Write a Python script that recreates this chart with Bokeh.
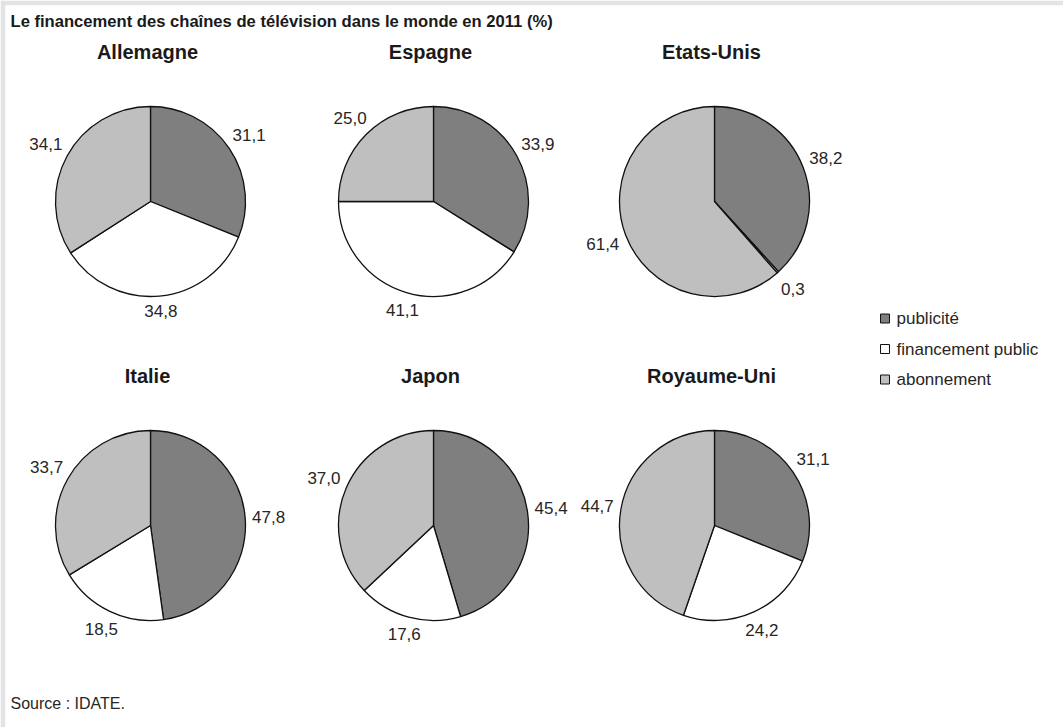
import math
from bokeh.plotting import figure
from bokeh.models import Range1d, ColumnDataSource
from bokeh.embed import file_html
from bokeh.resources import INLINE
from bokeh.core.properties import value

# ---------------- data ----------------
chart_title = "Le financement des chaînes de télévision dans le monde en 2011 (%)"
countries = ["Allemagne", "Espagne", "Etats-Unis", "Italie", "Japon", "Royaume-Uni"]
series = ["publicité", "financement public", "abonnement"]
publicite = [31.1, 33.9, 38.2, 47.8, 45.4, 31.1]
financement_public = [34.8, 41.1, 0.3, 18.5, 17.6, 24.2]
abonnement = [34.1, 25.0, 61.4, 33.7, 37.0, 44.7]
source_note = "Source : IDATE."

# ---------------- style / layout ----------------
colors = ["#7f7f7f", "#ffffff", "#bfbfbf"]
FONT = value("Liberation Sans")
W, H = 1063, 727
STRIP = 5              # grey strip on top / left


def px(x):
    return x


def py(y):
    return H - y


col_x = [150, 433, 714]
row_y = [201, 525]
R = 95

p = figure(width=W, height=H, x_range=Range1d(STRIP, W), y_range=Range1d(0, H - STRIP),
           x_axis_type=None, y_axis_type=None, toolbar_location=None,
           output_backend="svg", min_border=0, min_border_left=STRIP,
           min_border_top=STRIP)
p.outline_line_color = None
p.background_fill_color = "#ffffff"
p.border_fill_color = "#e3e3e3"
p.xgrid.grid_line_color = None
p.ygrid.grid_line_color = None

wx, wy, ws, we, wc = [], [], [], [], []
lx, ly, lt = [], [], []
tx, ty, tt = [], [], []

for i, name in enumerate(countries):
    cx = px(col_x[i % 3])
    cy = py(row_y[i // 3])
    vals = [publicite[i], financement_public[i], abonnement[i]]
    total = sum(vals)
    cum = 0.0
    for k, v in enumerate(vals):
        f0 = cum / total
        f1 = (cum + v) / total
        cum += v
        wx.append(cx)
        wy.append(cy)
        ws.append(math.pi / 2 - 2 * math.pi * f1)
        we.append(math.pi / 2 - 2 * math.pi * f0)
        wc.append(colors[k])
        mid = 2 * math.pi * (f0 + f1) / 2   # clockwise from top
        dx, dy = math.sin(mid), math.cos(mid)
        dist = R + 6 + 17 * abs(dx) + 7 * abs(dy)
        lx.append(cx + dist * dx)
        ly.append(cy + dist * dy)
        lt.append(f"{v:.1f}".replace(".", ","))
    tx.append(cx - 3)
    ty.append(cy + 150)
    tt.append(name)

wsrc = ColumnDataSource(dict(x=wx, y=wy, s=ws, e=we, c=wc))
p.wedge(x="x", y="y", radius=R, start_angle="s", end_angle="e",
        direction="anticlock", fill_color="c", line_color="#111111",
        line_width=1.3, source=wsrc)

p.text(x=lx, y=ly, text=lt, text_align="center", text_baseline="middle",
       text_font=FONT, text_font_size="17px", text_color="#262626")

p.text(x=tx, y=ty, text=tt, text_align="center", text_baseline="middle",
       text_font=FONT, text_font_size="20px", text_font_style="bold",
       text_color="#1a1a1a")

# main title
p.text(x=[px(10)], y=[py(21)], text=[chart_title], text_align="left",
       text_baseline="middle", text_font=FONT, text_font_size="16.6px",
       text_font_style="bold", text_color="#1a1a1a")

# legend
leg_y = [py(318 + 30.5 * k) for k in range(len(series))]
p.rect(x=[px(884.5)] * len(series), y=leg_y, width=9, height=9,
       fill_color=colors, line_color="#111111", line_width=1)
p.text(x=[px(896)] * len(series), y=leg_y, text=series, text_align="left",
       text_baseline="middle", text_font=FONT, text_font_size="17px",
       text_color="#262626")

# source
p.text(x=[px(10)], y=[py(703)], text=[source_note], text_align="left",
       text_baseline="middle", text_font=FONT, text_font_size="16px",
       text_color="#262626")

open("out.html", "w").write(file_html(p, INLINE))
